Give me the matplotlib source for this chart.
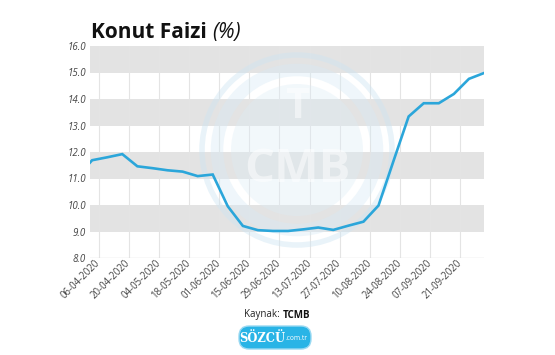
import numpy as np
import matplotlib
matplotlib.use("Agg")
import matplotlib.pyplot as plt
import matplotlib.transforms as mtransforms
from matplotlib.patches import Circle, FancyBboxPatch
from datetime import datetime

# weekly housing loan rate (%)
dates = ["02-04-2020", "03-04-2020", "10-04-2020", "17-04-2020", "24-04-2020",
         "01-05-2020", "08-05-2020", "15-05-2020", "22-05-2020", "29-05-2020",
         "05-06-2020", "12-06-2020", "19-06-2020", "26-06-2020", "03-07-2020",
         "10-07-2020", "17-07-2020", "24-07-2020", "31-07-2020", "07-08-2020",
         "14-08-2020", "21-08-2020", "28-08-2020", "04-09-2020", "11-09-2020",
         "18-09-2020", "25-09-2020", "02-10-2020"]
rates = [11.60, 11.69, 11.80, 11.92, 11.46,
         11.39, 11.31, 11.26, 11.09, 11.15,
         9.95, 9.21, 9.05, 9.02, 9.02,
         9.08, 9.15, 9.06, 9.22, 9.37,
         9.98, 11.67, 13.34, 13.84, 13.84,
         14.19, 14.76, 14.98]
tick_labels = ["06-04-2020", "20-04-2020", "04-05-2020", "18-05-2020", "01-06-2020",
               "15-06-2020", "29-06-2020", "13-07-2020", "27-07-2020", "10-08-2020",
               "24-08-2020", "07-09-2020", "21-09-2020"]
y_ticks = [8.0, 9.0, 10.0, 11.0, 12.0, 13.0, 14.0, 15.0, 16.0]

plt.rcParams['font.family'] = ['Open Sans', 'DejaVu Sans']

W, H = 555, 355
fig = plt.figure(figsize=(W/100, H/100), dpi=100)
fig.patch.set_facecolor('white')
ax = fig.add_axes([90/W, 1-258/H, (484-90)/W, (258-46)/H])

x = [datetime.strptime(d, "%d-%m-%Y") for d in dates]
xt = [datetime.strptime(d, "%d-%m-%Y") for d in tick_labels]

ax.set_xlim(x[0], x[-1])
ax.set_ylim(8, 16)

# alternating bands
for lo in [9, 11, 13, 15]:
    ax.axhspan(lo, lo+1, color='#e3e3e3', lw=0, zorder=0)
for t in xt:
    ax.axvline(t, color='#e4e4e4', lw=0.8, zorder=0.5)
ax.axhline(8, color='#dcdcdc', lw=1, zorder=0.5)

# faint TCMB watermark
cx, cy = 2.97, (H-150)/100
ax.add_patch(Circle((cx, cy), 0.95, transform=fig.dpi_scale_trans, fill=False,
                    ec='#cfe5f2', lw=4, alpha=0.45, zorder=1, clip_on=False))
ax.add_patch(Circle((cx, cy), 0.80, transform=fig.dpi_scale_trans, fill=False,
                    ec='#d7eaf5', lw=9, alpha=0.4, zorder=1, clip_on=False))
ax.add_patch(Circle((cx, cy), 0.66, transform=fig.dpi_scale_trans,
                    fc='#dcecf6', ec='none', alpha=0.35, zorder=1, clip_on=False))
fig.text(cx/5.55, (cy-0.2)/3.55, "CMB", fontsize=34, fontweight='bold', color='white',
         alpha=0.5, ha='center', va='center', zorder=2)
fig.text(cx/5.55, (cy+0.42)/3.55, "T", fontsize=30, fontweight='bold', color='white',
         alpha=0.5, ha='center', va='center', zorder=2)

ax.plot(x, rates, color='#2ba6da', lw=1.9, zorder=3, solid_joinstyle='miter')

ax.set_xticks(xt)
ax.set_xticklabels(tick_labels, rotation=45, ha='right', va='center',
                   rotation_mode='anchor', fontsize=6.9, color='#444444')
shift = mtransforms.ScaledTranslation(4/100, -3/100, fig.dpi_scale_trans)
for lab in ax.get_xticklabels():
    lab.set_transform(lab.get_transform() + shift)
ax.set_yticks(y_ticks)
ax.set_yticklabels(["%.1f" % v for v in y_ticks], fontsize=7, style='italic',
                   color='#444444')
ax.tick_params(axis='both', length=0, pad=3)
for s in ax.spines.values():
    s.set_visible(False)

# title
t1 = fig.text(91/W, 1-38/H, "Konut Faizi", fontsize=15, fontweight='bold', color='#111111')
fig.canvas.draw()
bb = t1.get_window_extent()
fig.text((bb.x1+5)/W, 1-38/H, "(%)", fontsize=15, style='italic', color='#111111')

# source
fig.text(280/W, 1-315/H, "Kaynak:", fontsize=7, ha='right', va='center', color='#222222')
fig.text(283/W, 1-315/H, "TCMB", fontsize=7, fontweight='bold', ha='left', va='center',
         color='#111111')

# sozcu badge (pixel-sized, drawn in inches)
badge = FancyBboxPatch((2.39, (H-349)/100), 0.72, 0.23,
                       boxstyle="round,pad=0,rounding_size=0.1",
                       transform=fig.dpi_scale_trans, fc='#29b4e6', ec='#9ad9f2', lw=1)
fig.patches.append(badge)
fig.text(262/W, 1-338/H, "SÖZCÜ", fontsize=8.3, fontweight='bold', family='DejaVu Serif',
         color='white', ha='center', va='center')
fig.text(297/W, 1-339/H, ".com.tr", fontsize=4.8, color='white', ha='center', va='center')

fig.savefig("out.png", dpi=100)
